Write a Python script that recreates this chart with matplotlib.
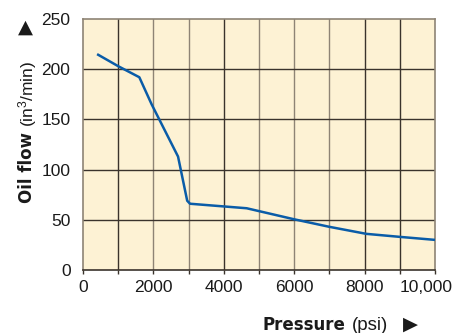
import matplotlib
matplotlib.use("Agg")
import matplotlib.pyplot as plt
from matplotlib.ticker import MultipleLocator, FixedLocator
from matplotlib.transforms import ScaledTranslation

plt.rcParams['font.family'] = ['Liberation Sans', 'DejaVu Sans']
plt.rcParams['mathtext.fontset'] = 'custom'
plt.rcParams['mathtext.rm'] = 'Liberation Sans'
plt.rcParams['mathtext.it'] = 'Liberation Sans'
plt.rcParams['mathtext.default'] = 'rm'

# Data
pressure = [400, 1000, 1600, 1950, 2700, 2960, 3040, 4650, 6000, 7000, 8050, 9000, 10000]
oil_flow = [215, 203, 192, 165, 113, 69, 66, 61.5, 50.5, 43, 36, 33, 30]

x_ticks = [0, 2000, 4000, 6000, 8000, 10000]
x_labels = ['0', '2000', '4000', '6000', '8000', '10,000']
y_ticks = [0, 50, 100, 150, 200, 250]

W, H = 453, 333
fig = plt.figure(figsize=(W / 100, H / 100), dpi=100)
ax = fig.add_axes([83 / W, 1 - 270 / H, (435 - 83) / W, (270 - 19) / H])
ax.set_facecolor('#fdf2d4')

ax.set_xlim(0, 10000)
ax.set_ylim(0, 250)

dark = '#3a332c'
gray = '#8e8475'
# vertical grid lines
vshade = {1000: dark, 2000: gray, 3000: gray, 4000: dark, 5000: gray,
          6000: gray, 7000: gray, 8000: dark, 9000: dark}
for xv, c in vshade.items():
    ax.axvline(xv, color=c, lw=1.0, zorder=1)
for yv in [50, 100, 150, 200]:
    ax.axhline(yv, color=dark, lw=1.0, zorder=1)

ax.plot(pressure, oil_flow, color='#0a5ca8', lw=1.8, zorder=3,
        solid_capstyle='butt', solid_joinstyle='round')

for s in ['left', 'top', 'right']:
    ax.spines[s].set_color(gray)
    ax.spines[s].set_linewidth(1.2)
ax.spines['bottom'].set_color(dark)
ax.spines['bottom'].set_linewidth(1.2)

ax.set_xticks(x_ticks)
ax.set_xticklabels(x_labels)
ax.xaxis.set_minor_locator(MultipleLocator(1000))
ax.set_yticks(y_ticks)
ax.yaxis.set_minor_locator(FixedLocator([0]))
ax.tick_params(axis='x', which='both', direction='out', length=3, width=1,
               color=dark, labelsize=12.5, pad=4, labelcolor='#1a1a1a')
ax.tick_params(axis='y', which='major', length=0, labelsize=12.5, pad=9,
               labelcolor='#1a1a1a')
ax.tick_params(axis='y', which='minor', length=4, width=1, color=dark)

last = ax.get_xticklabels()[-1]
last.set_transform(last.get_transform() + ScaledTranslation(-0.09, 0, fig.dpi_scale_trans))

# x axis title
fy = 1 - 325 / H
fig.text(262 / W, fy, 'Pressure', fontsize=12, fontweight='bold', ha='left', va='center',
         color='#1a1a1a', family='DejaVu Sans')
fig.text(352 / W, fy, '(psi)', fontsize=13.5, ha='left', va='center', color='#1a1a1a')
fig.text(403 / W, fy + 1 / H, '\u25B6', fontsize=14, ha='left', va='center', color='#1a1a1a',
         family='DejaVu Sans')

# y axis title
fx = 27 / W
fig.text(fx, 1 - 203 / H, 'Oil flow', fontsize=12, fontweight='bold', rotation=90,
         ha='center', va='bottom', color='#1a1a1a', family='DejaVu Sans')
fig.text(fx + 1 / W, 1 - 127 / H, '(in$^{3}$/min)', fontsize=12.5, rotation=90,
         ha='center', va='bottom', color='#1a1a1a')
fig.text(fx - 2 / W, 1 - 37 / H, '\u25B2', fontsize=14, rotation=0,
         ha='center', va='bottom', color='#1a1a1a', family='DejaVu Sans')

fig.savefig('out.png', dpi=100)
